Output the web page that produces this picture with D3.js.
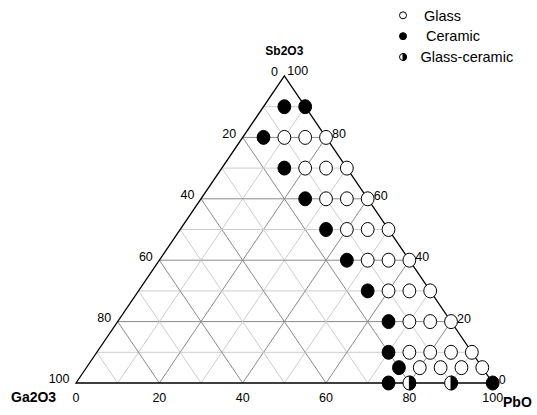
<!DOCTYPE html>
<html>
<head>
<meta charset="utf-8">
<script src="https://cdn.jsdelivr.net/npm/d3@7/dist/d3.min.js"></script>
<style>
  body { margin: 0; background: #fff; }
  svg { display: block; }
  text { font-family: "Liberation Sans", Arial, Helvetica, sans-serif; fill: #000; }
</style>
</head>
<body>
<svg id="chart" width="537" height="415"></svg>
<script>
// Compositions in mol %: Sb2O3 and PbO given, Ga2O3 = 100 - Sb2O3 - PbO
const sb2o3 = [
  90, 90,
  80, 80, 80, 80,
  70, 70, 70, 70,
  60, 60, 60, 60,
  50, 50, 50, 50,
  40, 40, 40, 40,
  30, 30, 30, 30,
  20, 20, 20, 20,
  10, 10, 10, 10, 10,
  5, 5, 5, 5, 5,
  0, 0, 0, 0
];
const pbo = [
  5, 10,
  5, 10, 15, 20,
  15, 20, 25, 30,
  25, 30, 35, 40,
  35, 40, 45, 50,
  45, 50, 55, 60,
  55, 60, 65, 70,
  65, 70, 75, 80,
  70, 75, 80, 85, 90,
  75, 80, 85, 90, 95,
  75, 80, 90, 100
];
// G = glass, C = ceramic, GC = glass-ceramic
const phase = [
  "C", "C",
  "C", "G", "G", "G",
  "C", "G", "G", "G",
  "C", "G", "G", "G",
  "C", "G", "G", "G",
  "C", "G", "G", "G",
  "C", "G", "G", "G",
  "C", "G", "G", "G",
  "C", "G", "G", "G", "G",
  "C", "G", "G", "G", "G",
  "C", "GC", "GC", "C"
];
const tickValues = [0, 20, 40, 60, 80, 100];
const gridValues = [10, 20, 30, 40, 50, 60, 70, 80, 90];
const legendKeys = ["G", "C", "GC"];
const legendLabels = ["Glass", "Ceramic", "Glass-ceramic"];
const axisTitles = { top: "Sb2O3", left: "Ga2O3", right: "PbO" };

const svg = d3.select("#chart");

// Linear scales: horizontal position along the PbO base, vertical by Sb2O3 level
const px = d3.scaleLinear().domain([0, 100]).range([76, 492.7]);
const py = d3.scaleLinear().domain([0, 100]).range([383, 76]);
const proj = (pb, sb) => [px(pb + sb / 2), py(sb)];

const A = proj(0, 0);     // Ga2O3 corner
const B = proj(100, 0);   // PbO corner
const C = proj(0, 100);   // Sb2O3 corner

// Grid lines, darker every 20 %
const gridG = svg.append("g").attr("fill", "none");
const gridColor = k => (k % 20 === 0 ? "#8a8a8a" : "#cdcdcd");
gridValues.forEach(k => {
  const segs = [
    [proj(0, k), proj(100 - k, k)],        // constant Sb2O3
    [proj(k, 0), proj(k, 100 - k)],        // constant PbO
    [proj(100 - k, 0), proj(0, 100 - k)]   // constant Ga2O3
  ];
  segs.forEach(([p1, p2]) => {
    gridG.append("line")
      .attr("x1", p1[0]).attr("y1", p1[1])
      .attr("x2", p2[0]).attr("y2", p2[1])
      .attr("stroke", gridColor(k))
      .attr("stroke-width", 1);
  });
});

// Triangle outline
svg.append("path")
  .attr("d", d3.line()([A, B, C]) + "Z")
  .attr("fill", "none")
  .attr("stroke", "#000")
  .attr("stroke-width", 1.3);

// Markers
const rx = 6.4, ry = 7;
function drawMarker(g, cx, cy, kind, sx, sy) {
  if (kind === "GC") {
    g.append("ellipse").attr("cx", cx).attr("cy", cy).attr("rx", sx).attr("ry", sy)
      .attr("fill", "#fff").attr("stroke", "#000").attr("stroke-width", 1);
    g.append("path")
      .attr("d", `M${cx},${cy - sy} A${sx},${sy} 0 0 1 ${cx},${cy + sy} Z`)
      .attr("fill", "#000").attr("stroke", "#000").attr("stroke-width", 1);
  } else {
    g.append("ellipse").attr("cx", cx).attr("cy", cy).attr("rx", sx).attr("ry", sy)
      .attr("fill", kind === "C" ? "#000" : "#fff")
      .attr("stroke", "#000").attr("stroke-width", 1);
  }
}
const markG = svg.append("g");
sb2o3.forEach((sb, i) => {
  const [x, y] = proj(pbo[i], sb);
  drawMarker(markG, x, y, phase[i], rx, ry);
});

// Tick labels
const fs = 12.5;
const half = 0.358 * fs;
const lab = svg.append("g").attr("font-size", fs);
// bottom edge: PbO
tickValues.forEach(t => {
  lab.append("text").attr("x", px(t)).attr("y", 398 + half)
    .attr("text-anchor", "middle").text(t);
});
// left edge: Ga2O3 (0 at the Sb2O3 corner, 100 at the Ga2O3 corner)
tickValues.forEach(t => {
  const [x, y] = proj(0, 100 - t);
  lab.append("text").attr("x", x - 6.5).attr("y", y - 4 + half)
    .attr("text-anchor", "end").text(t);
});
// right edge: Sb2O3
tickValues.forEach(t => {
  const [x, y] = proj(100 - t, t);
  const dx = t === 100 ? 3 : 6;
  const dy = t === 100 ? -5 : -3.5;
  lab.append("text").attr("x", x + dx).attr("y", y + dy + half)
    .attr("text-anchor", "start").text(t);
});

// Corner titles
svg.append("text").attr("x", C[0]).attr("y", 55.2)
  .attr("text-anchor", "middle").attr("font-weight", "bold").attr("font-size", 12)
  .text(axisTitles.top);
svg.append("text").attr("x", 11).attr("y", 402)
  .attr("text-anchor", "start").attr("font-weight", "bold").attr("font-size", 14)
  .text(axisTitles.left);
svg.append("text").attr("x", 503).attr("y", 407)
  .attr("text-anchor", "start").attr("font-weight", "bold").attr("font-size", 14)
  .text(axisTitles.right);

// Legend
const legY = d3.scalePoint().domain(legendKeys).range([15.3, 57]);
const legX = [424, 426, 420.5];
const leg = svg.append("g");
legendKeys.forEach((k, i) => {
  const y = legY(k);
  drawMarker(leg, 403, y, k, 3.5, 3.5);
  leg.append("text").attr("x", legX[i]).attr("y", y + 5.3)
    .attr("font-size", 14.5).text(legendLabels[i]);
});
</script>
</body>
</html>
